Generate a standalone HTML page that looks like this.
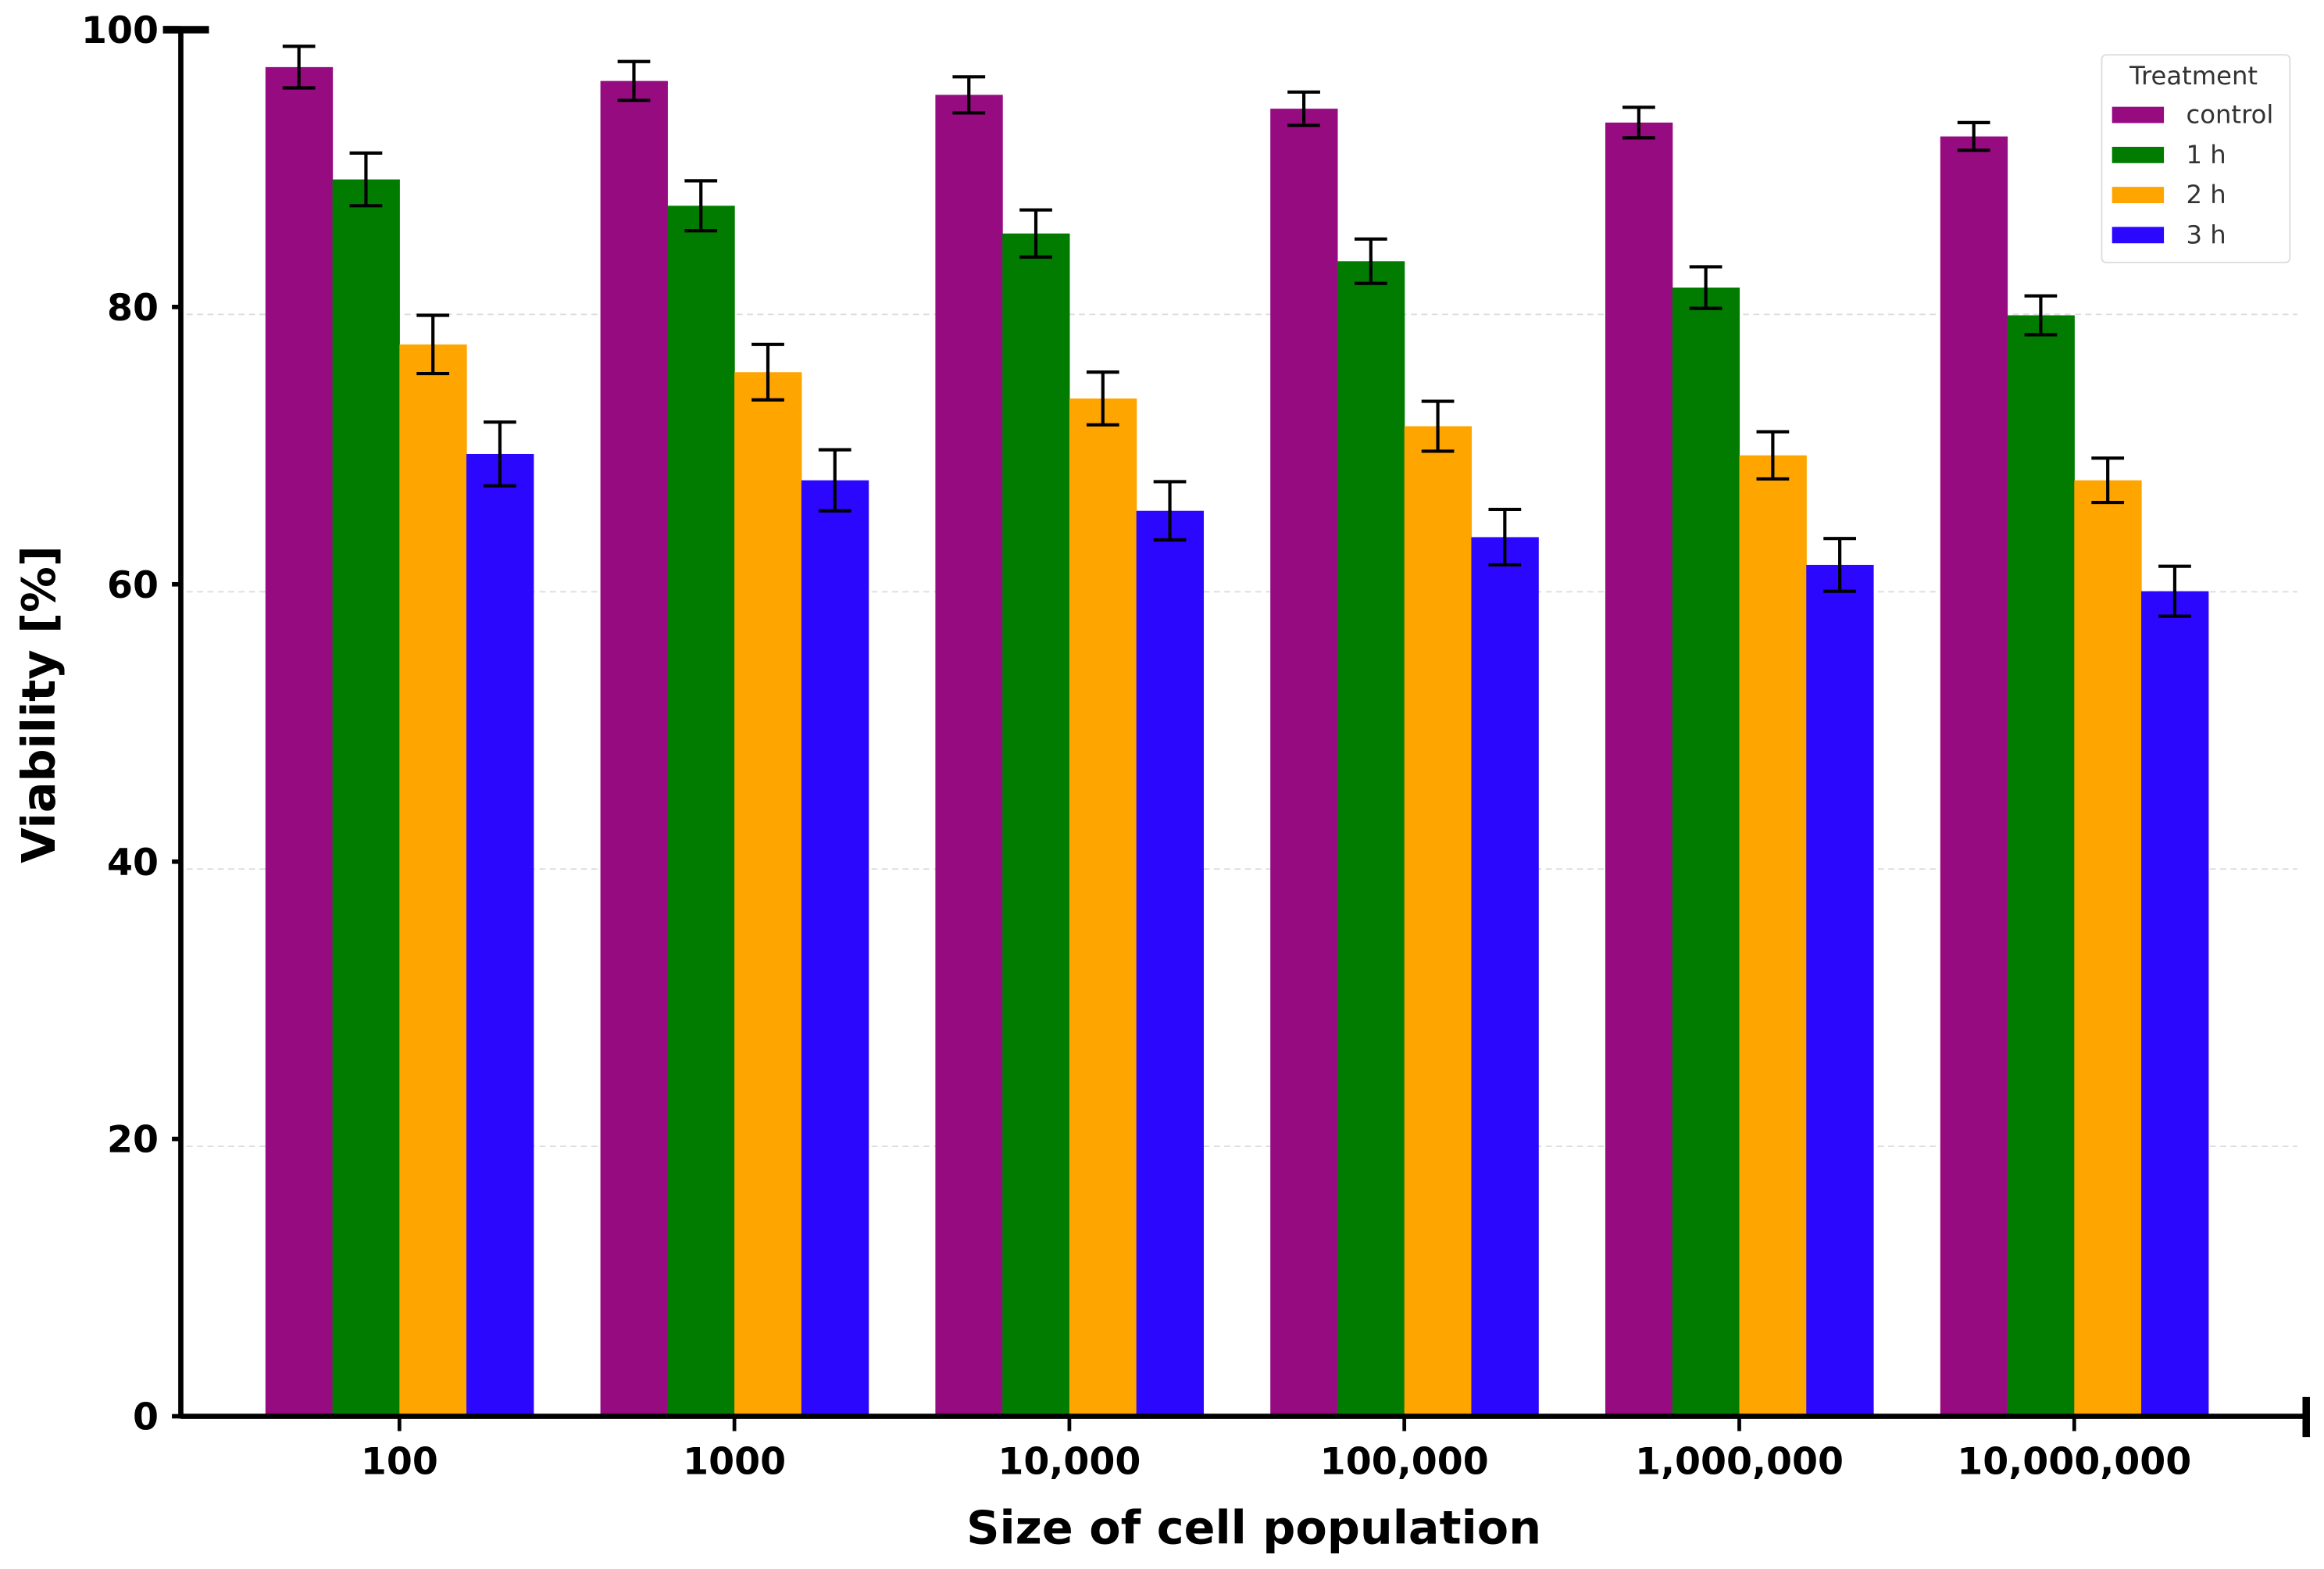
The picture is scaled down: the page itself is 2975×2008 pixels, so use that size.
<!DOCTYPE html>
<html><head><meta charset="utf-8"><style>
html,body{margin:0;padding:0;background:#fff;}
svg{display:block;font-family:"DejaVu Sans","Liberation Sans",sans-serif;}
</style></head><body>
<svg id="chart" width="2975" height="2008" viewBox="0 0 1568 1058" preserveAspectRatio="none" xmlns="http://www.w3.org/2000/svg">
<g id="grid"></g>
<g id="bars"></g>
<g id="errs"></g>
<g id="axes"></g>
<text x="0" y="0" transform="translate(37,475) rotate(-90)" text-anchor="middle" font-weight="bold" font-size="31">Viability [%]</text>
<text x="846" y="1041" text-anchor="middle" font-weight="bold" font-size="31">Size of cell population</text>
<g>
<rect x="1418" y="37" width="127" height="140" rx="3" fill="#fff" stroke="#ddd" stroke-width="1"/>
<text x="1480" y="57" text-anchor="middle" font-size="17" fill="#333">Treatment</text>
<g id="legend-items"></g>
</g>
</svg>
<script>
const categories = ["100","1000","10,000","100,000","1,000,000","10,000,000"];
const seriesNames = ["control","1 h","2 h","3 h"];
const seriesColors = ["#960c80","#017c01","#ffa500","#2b07fe"];
const controlVals = [97.3,96.3,95.3,94.3,93.3,92.3];
const h1Vals = [89.2,87.3,85.3,83.3,81.4,79.4];
const h2Vals = [77.3,75.3,73.4,71.4,69.3,67.5];
const h3Vals = [69.4,67.5,65.3,63.4,61.4,59.5];
const controlErr = [1.5,1.4,1.3,1.2,1.1,1.0];
const h1Err = [1.9,1.8,1.7,1.6,1.5,1.4];
const h2Err = [2.1,2.0,1.9,1.8,1.7,1.6];
const h3Err = [2.3,2.2,2.1,2.0,1.9,1.8];
const yTicks = [0,20,40,60,80,100];

const NS="http://www.w3.org/2000/svg";
const series=[controlVals,h1Vals,h2Vals,h3Vals];
const errs=[controlErr,h1Err,h2Err,h3Err];
const x0=122, yBase=955, yTop=20, barW=45.2, groupStep=226, firstCenter=269.5;
function y(v){return yBase-(v/100)*(yBase-yTop);}
function gx(i){return firstCenter+i*groupStep;}
function mk(tag,attrs,parent){const e=document.createElementNS(NS,tag);for(const k in attrs)e.setAttribute(k,attrs[k]);parent.appendChild(e);return e;}
const G=document.getElementById('grid'),B=document.getElementById('bars'),E=document.getElementById('errs'),A=document.getElementById('axes'),L=document.getElementById('legend-items');

yTicks.forEach(t=>{
  if(t>0&&t<100){
    const g=mk('line',{x1:x0+4,x2:1550,y1:y(t)+5,y2:y(t)+5,stroke:'#ddd','stroke-width':1,'stroke-dasharray':'4,3'},G);
    
    
  }
  const tk=mk('line',{x1:t===100?110:116,x2:x0,y1:y(t),y2:y(t),stroke:'#000','stroke-width':t===100?5:3},A);
  
  
  const lb=mk('text',{x:107,y:y(t)+9,'text-anchor':'end','font-size':25,'font-weight':'bold'},A);
  lb.textContent=t;
  
  
});
const topT=mk('line',{x1:110,x2:141,y1:yTop,y2:yTop,stroke:'#000','stroke-width':5},A);



series.forEach((vals,s)=>{
  vals.forEach((v,i)=>{
    const bx=gx(i)-2*barW+s*barW;
    const r=mk('rect',{x:bx,y:y(v),width:barW+0.3,height:yBase-y(v),fill:seriesColors[s]},B);
    
    
    const cx=bx+barW/2, e=errs[s][i];
    const eg=mk('g',{stroke:'#000','stroke-width':2.2},E);
    
    
    mk('line',{x1:cx,x2:cx,y1:y(v+e),y2:y(v-e)},eg);
    mk('line',{x1:cx-11,x2:cx+11,y1:y(v+e),y2:y(v+e)},eg);
    mk('line',{x1:cx-11,x2:cx+11,y1:y(v-e),y2:y(v-e)},eg);
  });
});

const ya=mk('line',{x1:x0,x2:x0,y1:yTop,y2:yBase+1.5,stroke:'#000','stroke-width':3.5},A);


const xa=mk('line',{x1:x0,x2:1557,y1:yBase,y2:yBase,stroke:'#000','stroke-width':3.5},A);


const rc=mk('line',{x1:1556,x2:1556,y1:942,y2:969,stroke:'#000','stroke-width':5},A);



categories.forEach((c,i)=>{
  const tk=mk('line',{x1:gx(i),x2:gx(i),y1:yBase,y2:yBase+10,stroke:'#000','stroke-width':2.5},A);
  
  
  const lb=mk('text',{x:gx(i),y:yBase+39,'text-anchor':'middle','font-size':25,'font-weight':'bold'},A);
  lb.textContent=c;
  
  
});

seriesNames.forEach((n,s)=>{
  const yy=77+s*27;
  const sw=mk('rect',{x:1425,y:yy-5,width:35,height:11,fill:seriesColors[s]},L);
  
  
  const t=mk('text',{x:1475,y:yy+6,'font-size':17,fill:'#333'},L);
  t.textContent=n;
  
  
});
</script>
</body></html>
